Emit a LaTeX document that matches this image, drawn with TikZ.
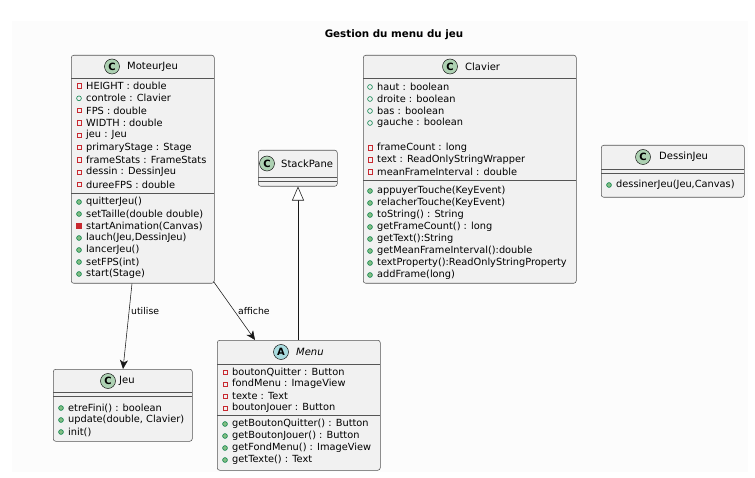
\documentclass[tikz,border=0pt]{standalone}
\usepackage{fontspec}
\setmainfont{DejaVu Sans}
\usetikzlibrary{calc,arrows.meta}
\definecolor{boxfill}{HTML}{F1F1F1}
\definecolor{lineC}{HTML}{181818}
\definecolor{borderC}{HTML}{555555}
\definecolor{spotCfill}{HTML}{ADD1B2}
\definecolor{spotAfill}{HTML}{A9DCDF}
\definecolor{privC}{HTML}{C82930}
\definecolor{pubC}{HTML}{038048}
\definecolor{pubFill}{HTML}{84BE84}
\definecolor{bgC}{HTML}{FCFCFC}
\newcounter{memc}
\newcommand{\mrow}[4]{\stepcounter{memc}\pic at (#1,#2) {#3};\node[mem] (m\arabic{memc}) at (#1+7,#2) {#4};}
\tikzset{
  classbox/.style={draw=borderC, fill=boxfill, line width=0.55pt, rounded corners=2.5pt, inner sep=0pt, anchor=north west},
  sepline/.style={draw=borderC, line width=0.55pt},
  mem/.style={anchor=west, inner sep=0pt, font=\fontsize{9.8}{11}\selectfont},
  cname/.style={anchor=west, inner sep=0pt, font=\fontsize{10}{12}\selectfont},
  spot/.style={circle, draw=lineC, minimum size=15pt, inner sep=0pt, line width=0.5pt, font=\bfseries\fontsize{10}{12}\selectfont},
  spotC/.style={spot, fill=spotCfill},
  spotA/.style={spot, fill=spotAfill},
  privf/.pic={\draw[privC, line width=0.6pt] (-2.2,-2.2) rectangle (2.2,2.2);},
  privm/.pic={\fill[privC] (-2.6,-2.6) rectangle (2.6,2.6);},
  pubf/.pic={\draw[pubC, line width=0.6pt] (0,0) circle (2.4);},
  pubm/.pic={\draw[pubC, fill=pubFill, line width=0.6pt] (0,0) circle (2.4);},
  dep/.style={draw=lineC, line width=0.55pt, -{Stealth[length=9pt, width=8pt, inset=2.5pt]}},
  ext/.style={draw=lineC, line width=0.55pt, -{Triangle[open, length=14pt, width=12pt, fill=white]}},
  lbl/.style={anchor=west, inner sep=0pt, font=\fontsize{9.3}{11}\selectfont},
}
\begin{document}
\begin{tikzpicture}[x=1pt, y=-1pt]
\useasboundingbox (0,0) rectangle (755,478);
\fill[bgC] (12,21) rectangle (748,472);
\node[font=\bfseries\fontsize{10.3}{12}\selectfont, inner sep=0pt] (title) at (394,35) {Gestion du menu du jeu};

% MoteurJeu
\node[classbox, minimum width=143pt, minimum height=228pt] (moteur) at (71,55) {};
\draw[sepline] (71,78) -- (214,78);
\draw[sepline] (71,193) -- (214,193);
\node[spotC] (moteurspot) at (112,66.5) {C};
\node[cname] (moteurname) at (127,66.5) {MoteurJeu};
\mrow{79}{86}{privf}{HEIGHT : double}
\mrow{79}{98.3}{pubf}{controle : Clavier}
\mrow{79}{110.6}{privf}{FPS : double}
\mrow{79}{122.9}{privf}{WIDTH : double}
\mrow{79}{135.2}{privf}{jeu : Jeu}
\mrow{79}{147.5}{privf}{primaryStage : Stage}
\mrow{79}{159.8}{privf}{frameStats : FrameStats}
\mrow{79}{172.1}{privf}{dessin : DessinJeu}
\mrow{79}{184.4}{privf}{dureeFPS : double}
\mrow{79}{202}{pubm}{quitterJeu()}
\mrow{79}{214}{pubm}{setTaille(double double)}
\mrow{79}{226}{privm}{startAnimation(Canvas)}
\mrow{79}{238}{pubm}{lauch(Jeu,DessinJeu)}
\mrow{79}{250}{pubm}{lancerJeu()}
\mrow{79}{262}{pubm}{setFPS(int)}
\mrow{79}{274}{pubm}{start(Stage)}

% Clavier
\node[classbox, minimum width=213pt, minimum height=228pt] (clavier) at (363,55) {};
\draw[sepline] (363,78) -- (576,78);
\draw[sepline] (363,180) -- (576,180);
\node[spotC] (clavierspot) at (450,66.5) {C};
\node[cname] (claviername) at (465,66.5) {Clavier};
\mrow{370}{87}{pubf}{haut : boolean}
\mrow{370}{99}{pubf}{droite : boolean}
\mrow{370}{111}{pubf}{bas : boolean}
\mrow{370}{123}{pubf}{gauche : boolean}
\mrow{370}{148}{privf}{frameCount : long}
\mrow{370}{160}{privf}{text : ReadOnlyStringWrapper}
\mrow{370}{172}{privf}{meanFrameInterval : double}
\mrow{370}{191}{pubm}{appuyerTouche(KeyEvent)}
\mrow{370}{203}{pubm}{relacherTouche(KeyEvent)}
\mrow{370}{215}{pubm}{toString() : String}
\mrow{370}{227}{pubm}{getFrameCount() : long}
\mrow{370}{239}{pubm}{getText():String}
\mrow{370}{251}{pubm}{getMeanFrameInterval():double}
\mrow{370}{263}{pubm}{textProperty():ReadOnlyStringProperty}
\mrow{370}{275}{pubm}{addFrame(long)}

% StackPane
\node[classbox, minimum width=79pt, minimum height=36pt] (stack) at (258,150) {};
\draw[sepline] (258,177) -- (337,177);
\draw[sepline] (258,181) -- (337,181);
\node[spotC] (stackspot) at (267,163.5) {C};
\node[cname] (stackname) at (281,163.5) {StackPane};

% DessinJeu
\node[classbox, minimum width=143pt, minimum height=52pt] (dessin) at (601,145) {};
\draw[sepline] (601,169) -- (744,169);
\draw[sepline] (601,173) -- (744,173);
\node[spotC] (dessinspot) at (643,157) {C};
\node[cname] (dessinname) at (659,157) {DessinJeu};
\mrow{609}{185}{pubm}{dessinerJeu(Jeu,Canvas)}

% Jeu
\node[classbox, minimum width=139pt, minimum height=72pt] (jeu) at (53,369) {};
\draw[sepline] (53,392) -- (192,392);
\draw[sepline] (53,396) -- (192,396);
\node[spotC] (jeuspot) at (108,381) {C};
\node[cname] (jeuname) at (119,381) {Jeu};
\mrow{61}{408}{pubm}{etreFini() : boolean}
\mrow{61}{420}{pubm}{update(double, Clavier)}
\mrow{61}{432}{pubm}{init()}

% Menu
\node[classbox, minimum width=163pt, minimum height=130pt] (menu) at (217,340) {};
\draw[sepline] (217,364) -- (380,364);
\draw[sepline] (217,415) -- (380,415);
\node[spotA] (menuspot) at (281,352) {A};
\node[cname, font=\itshape\fontsize{10}{12}\selectfont] (menuname) at (296,352) {Menu};
\mrow{225}{372}{privf}{boutonQuitter : Button}
\mrow{225}{384}{privf}{fondMenu : ImageView}
\mrow{225}{396}{privf}{texte : Text}
\mrow{225}{408}{privf}{boutonJouer : Button}
\mrow{225}{424}{pubm}{getBoutonQuitter() : Button}
\mrow{225}{436}{pubm}{getBoutonJouer() : Button}
\mrow{225}{448}{pubm}{getFondMenu() : ImageView}
\mrow{225}{460}{pubm}{getTexte() : Text}

% connectors
\draw[dep] ($(moteur.south west)+(61,0)$) -- ($(jeu.north west)+(70,0)$);
\node[lbl] (lutilise) at (131,311) {utilise};
\draw[dep] ($(moteur.south east)+(-1,-2)$) -- ($(menu.north west)+(38,0)$);
\node[lbl] (laffiche) at (238,311) {affiche};
\draw[ext] ($(menu.north west)+(81,0)$) -- ($(stack.south west)+(40,0)$);
\end{tikzpicture}
\end{document}
